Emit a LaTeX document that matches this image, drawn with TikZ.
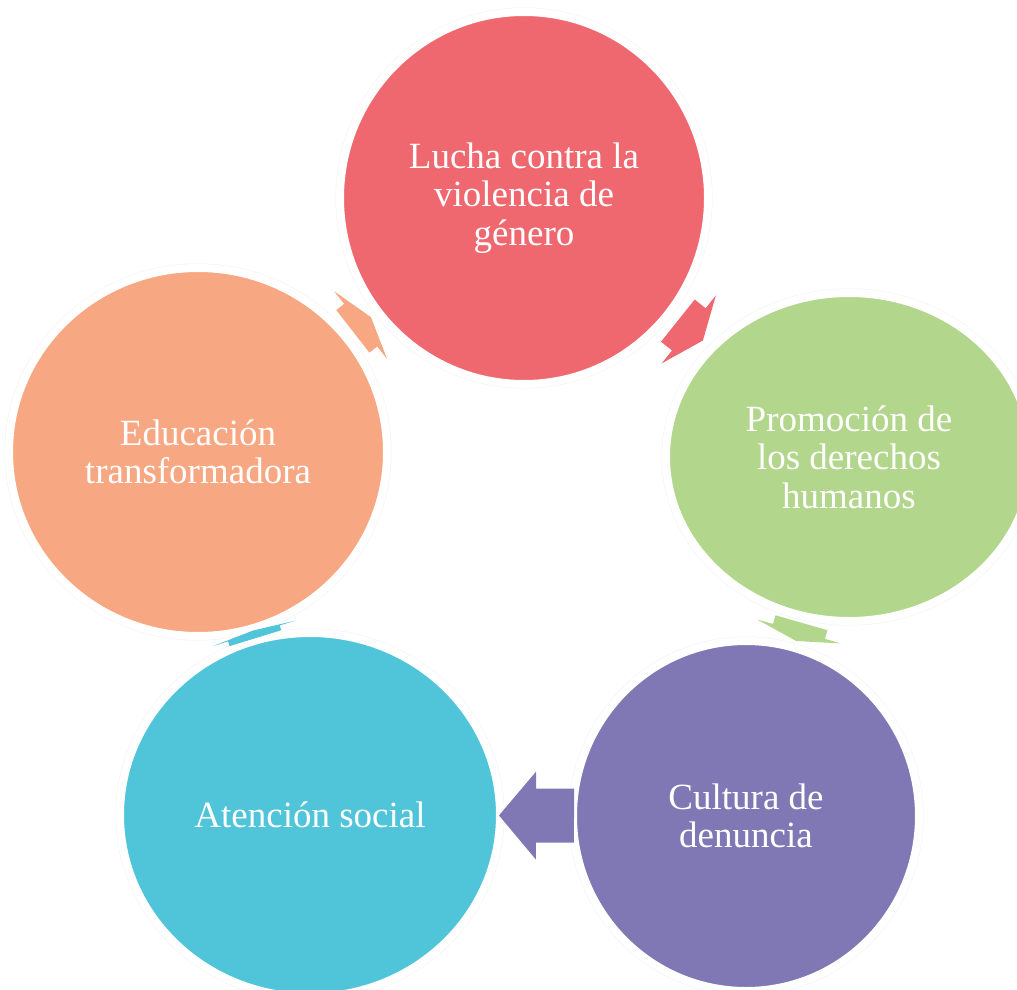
\documentclass[tikz,border=0pt]{standalone}
\usepackage{fontspec}
\setmainfont{Liberation Serif}
\usetikzlibrary{shapes.geometric}

\definecolor{redbub}{HTML}{EF6870}
\definecolor{greenbub}{HTML}{B2D68C}
\definecolor{purplebub}{HTML}{7F78B4}
\definecolor{cyanbub}{HTML}{50C4D8}
\definecolor{orangebub}{HTML}{F7A782}

\begin{document}
\begin{tikzpicture}[x=1pt, y=-1pt,
        bubble/.style={ellipse, fill=#1, draw=white, line width=8pt,
            preaction={draw=black!5, line width=9pt},
            text=white, align=center, inner sep=0pt,
            font=\fontsize{37}{38.5}\selectfont},
        pics/cyclearrow/.style n args={4}{code={
            \fill (-#1/2-#2/2, -#3) -- (#1/2-#2/2, -#3) -- (#1/2-#2/2, -#4)
                -- (#1/2+#2/2, 0) -- (#1/2-#2/2, #4) -- (#1/2-#2/2, #3)
                -- (-#1/2-#2/2, #3) -- cycle;
        }}]
        \useasboundingbox (0,0) rectangle (1017,990);

        \node (lucha) [bubble=redbub, minimum width=368, minimum height=372] at (524,198) {Lucha contra la\\violencia de\\género};
        \node (promo) [bubble=greenbub, minimum width=366, minimum height=328] at (849,457) {Promoción de\\los derechos\\humanos};
        \node (cultura) [bubble=purplebub, minimum width=346, minimum height=350] at (746,816) {Cultura de\\denuncia};
        \node (atencion) [bubble=cyanbub, minimum width=380, minimum height=364] at (310,815) {Atención social};
        \node (educ) [bubble=orangebub, minimum width=378, minimum height=368] at (198,452) {Educación\\transformadora};

        \path (lucha) -- pic[midway, sloped, allow upside down, fill=redbub] {cyclearrow={14}{18}{27}{43.5}} (promo);
        \path (promo) -- pic[midway, sloped, allow upside down, fill=greenbub] {cyclearrow={9}{10}{27}{43.5}} (cultura);
        \path (cultura) -- pic[midway, sloped, allow upside down, fill=purplebub] {cyclearrow={38}{37}{27}{44}} (atencion);
        \path (atencion) -- pic[midway, sloped, allow upside down, fill=cyanbub] {cyclearrow={5}{3}{27}{43}} (educ);
        \path (educ) -- pic[midway, sloped, allow upside down, fill=orangebub] {cyclearrow={10}{13}{27}{43}} (lucha);
    \end{tikzpicture}
\end{document}
